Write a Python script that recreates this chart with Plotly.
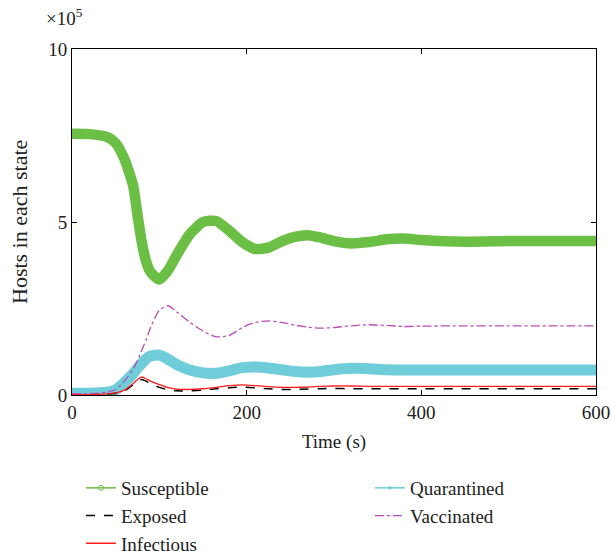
import plotly.graph_objects as go

# Time grid (s)
time = [0, 20, 40, 50, 60, 70, 75, 80, 85, 90, 100, 110, 120, 135, 150, 165, 180, 195,
        210, 225, 240, 255, 270, 285, 300, 320, 340, 360, 380, 400, 450, 500, 550, 600]

# Hosts in each state (x 10^5)
susceptible = [7.55, 7.54, 7.46, 7.28, 6.82, 6.05, 5.2, 4.4, 3.85, 3.55, 3.34, 3.6, 4.05, 4.65, 5.0, 5.03,
               4.75, 4.42, 4.22, 4.26, 4.44, 4.57, 4.62, 4.55, 4.45, 4.38, 4.42, 4.5, 4.52, 4.48, 4.43, 4.45, 4.45, 4.45]
quarantined = [0.05, 0.05, 0.08, 0.15, 0.36, 0.62, 0.78, 0.92, 1.05, 1.13, 1.15, 1.03, 0.88, 0.72, 0.64, 0.63,
               0.7, 0.79, 0.81, 0.78, 0.73, 0.68, 0.66, 0.68, 0.73, 0.77, 0.76, 0.73, 0.72, 0.72, 0.72, 0.72, 0.72, 0.72]
vaccinated = [0.04, 0.04, 0.08, 0.16, 0.4, 0.75, 1.0, 1.3, 1.6, 1.95, 2.45, 2.58, 2.4, 2.1, 1.85, 1.68,
              1.72, 1.95, 2.1, 2.14, 2.1, 2.02, 1.96, 1.93, 1.95, 2.0, 2.03, 2.01, 1.98, 1.99, 2.0, 2.0, 2.0, 2.0]
infectious = [0.01, 0.01, 0.03, 0.06, 0.14, 0.33, 0.45, 0.52, 0.47, 0.4, 0.3, 0.21, 0.17, 0.16, 0.18, 0.22,
              0.27, 0.29, 0.27, 0.24, 0.22, 0.22, 0.23, 0.25, 0.26, 0.26, 0.25, 0.25, 0.25, 0.25, 0.25, 0.25, 0.25, 0.25]
exposed = [0.01, 0.01, 0.03, 0.05, 0.12, 0.3, 0.4, 0.45, 0.4, 0.32, 0.22, 0.15, 0.12, 0.12, 0.14, 0.18,
           0.21, 0.23, 0.21, 0.18, 0.16, 0.16, 0.17, 0.18, 0.19, 0.18, 0.18, 0.18, 0.18, 0.18, 0.18, 0.18, 0.18, 0.18]

x_ticks = [0, 200, 400, 600]
y_ticks = [0, 5, 10]

GREEN = "#6cbf45"
CYAN = "#6ecdd9"
RED = "#ff1a1a"
MAGENTA = "#bb4db5"
FONT = "Liberation Serif"
TXT = "#222"

fig = go.Figure()

# Data traces
spl = dict(shape="spline", smoothing=0.6)
fig.add_trace(go.Scatter(x=time, y=susceptible, mode="lines", line=dict(color=GREEN, width=10.5, **spl), showlegend=False))
fig.add_trace(go.Scatter(x=time, y=quarantined, mode="lines", line=dict(color=CYAN, width=11, **spl), showlegend=False))
fig.add_trace(go.Scatter(x=time, y=exposed, mode="lines", line=dict(color="black", width=1.5, dash="dash", **spl), showlegend=False))
fig.add_trace(go.Scatter(x=time, y=infectious, mode="lines", line=dict(color=RED, width=1.3, **spl), showlegend=False))
fig.add_trace(go.Scatter(x=time, y=vaccinated, mode="lines", line=dict(color=MAGENTA, width=1.3, dash="dashdot", **spl), showlegend=False))

# Legend entries: left column
fig.add_trace(go.Scatter(x=[None], y=[None], mode="lines+markers", name="Susceptible", legend="legend",
                         line=dict(color=GREEN, width=1.5), marker=dict(symbol="circle-open", size=5, color=GREEN)))
fig.add_trace(go.Scatter(x=[None], y=[None], mode="lines", name="Exposed", legend="legend",
                         line=dict(color="black", width=1.5, dash="dash")))
fig.add_trace(go.Scatter(x=[None], y=[None], mode="lines", name="Infectious", legend="legend",
                         line=dict(color=RED, width=1.5)))
# right column
fig.add_trace(go.Scatter(x=[None], y=[None], mode="lines+markers", name="Quarantined", legend="legend2",
                         line=dict(color=CYAN, width=1.5), marker=dict(symbol="square", size=3, color=CYAN)))
fig.add_trace(go.Scatter(x=[None], y=[None], mode="lines", name="Vaccinated", legend="legend2",
                         line=dict(color=MAGENTA, width=1.3, dash="dashdot")))

axis_common = dict(showline=True, linecolor="black", linewidth=1, mirror="allticks",
                   ticks="inside", ticklen=5, tickcolor="black", showgrid=False, zeroline=False,
                   tickfont=dict(family=FONT, size=19, color=TXT))

fig.update_xaxes(range=[0, 600], tickvals=x_ticks,
                 title=dict(text="Time (s)", font=dict(family=FONT, size=19, color=TXT), standoff=12),
                 **axis_common)
fig.update_yaxes(range=[0, 10], tickvals=y_ticks, **axis_common)

fig.add_annotation(text="Hosts in each state", xref="paper", yref="paper", x=0, y=0.5,
                   xanchor="center", yanchor="middle", xshift=-53, textangle=-90, showarrow=False,
                   font=dict(family=FONT, size=22, color=TXT))

fig.add_annotation(text="×10<sup>5</sup>", xref="paper", yref="paper", x=0, y=1.092,
                   xanchor="center", yanchor="middle", xshift=-8, showarrow=False,
                   font=dict(family=FONT, size=19, color=TXT))

legend_style = dict(orientation="v", xref="container", yref="container", xanchor="left", yanchor="top",
                    font=dict(family=FONT, size=19, color=TXT), bgcolor="rgba(0,0,0,0)",
                    tracegroupgap=0)

fig.update_layout(
    width=611, height=554,
    margin=dict(l=72, r=15, t=49, b=159, autoexpand=False),
    paper_bgcolor="white", plot_bgcolor="white",
    font=dict(family=FONT, color=TXT),
    legend=dict(x=81 / 611, y=1 - 469 / 554, **legend_style),
    legend2=dict(x=370 / 611, y=1 - 469 / 554, **legend_style),
)

fig.write_html("out.html")
